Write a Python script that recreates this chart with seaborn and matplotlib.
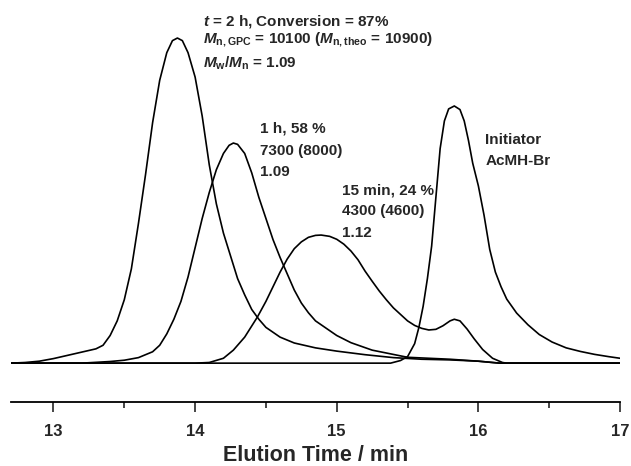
import numpy as np
import pandas as pd
import seaborn as sns
import matplotlib
matplotlib.use("Agg")
import matplotlib.pyplot as plt

# GPC traces: elution time (min) and normalised RI signal
t_2h = [12.70, 12.80, 12.90, 13.00, 13.10, 13.20, 13.30, 13.35, 13.40, 13.45, 13.50,
        13.55, 13.60, 13.65, 13.70, 13.75, 13.80, 13.84, 13.875, 13.91, 13.95, 14.00,
        14.05, 14.10, 14.15, 14.20, 14.25, 14.30, 14.35, 14.40, 14.45, 14.50, 14.60,
        14.70, 14.85, 15.00, 15.20, 15.40, 15.60, 15.80, 16.00, 16.15, 17.00]
s_2h = [0.0, 0.002, 0.006, 0.014, 0.024, 0.034, 0.044, 0.055, 0.085, 0.130, 0.195,
        0.290, 0.430, 0.580, 0.740, 0.870, 0.955, 0.992, 1.0, 0.992, 0.955, 0.880,
        0.760, 0.610, 0.490, 0.400, 0.330, 0.260, 0.210, 0.165, 0.135, 0.110, 0.080,
        0.062, 0.047, 0.037, 0.026, 0.017, 0.012, 0.010, 0.006, 0.0, 0.0]

t_1h = [12.70, 13.20, 13.40, 13.50, 13.60, 13.70, 13.75, 13.80, 13.85, 13.90, 13.95,
        14.00, 14.05, 14.10, 14.15, 14.20, 14.24, 14.27, 14.30, 14.35, 14.40, 14.45,
        14.50, 14.55, 14.60, 14.65, 14.70, 14.75, 14.80, 14.85, 14.90, 15.00, 15.10,
        15.25, 15.50, 15.80, 16.00, 16.15, 17.00]
s_1h = [0.0, 0.0, 0.005, 0.009, 0.017, 0.035, 0.055, 0.090, 0.135, 0.190, 0.265,
        0.355, 0.445, 0.525, 0.595, 0.645, 0.670, 0.677, 0.673, 0.645, 0.585, 0.510,
        0.445, 0.380, 0.325, 0.275, 0.225, 0.185, 0.155, 0.130, 0.115, 0.085, 0.063,
        0.040, 0.018, 0.012, 0.006, 0.0, 0.0]

t_15 = [12.70, 14.00, 14.10, 14.20, 14.27, 14.35, 14.44, 14.50, 14.55, 14.60, 14.65,
        14.70, 14.75, 14.80, 14.85, 14.89, 14.95, 15.00, 15.05, 15.10, 15.15, 15.20,
        15.25, 15.30, 15.35, 15.40, 15.45, 15.50, 15.55, 15.60, 15.65, 15.70, 15.75,
        15.80, 15.83, 15.87, 15.92, 15.97, 16.03, 16.10, 16.17, 16.20, 17.00]
s_15 = [0.0, 0.0, 0.002, 0.015, 0.040, 0.080, 0.142, 0.190, 0.235, 0.280, 0.320,
        0.352, 0.373, 0.387, 0.393, 0.394, 0.390, 0.381, 0.366, 0.345, 0.318, 0.283,
        0.252, 0.222, 0.195, 0.170, 0.150, 0.130, 0.116, 0.107, 0.102, 0.104, 0.115,
        0.130, 0.135, 0.130, 0.105, 0.075, 0.042, 0.015, 0.002, 0.0, 0.0]

t_ini = [12.70, 15.38, 15.45, 15.50, 15.55, 15.58, 15.61, 15.64, 15.67, 15.70, 15.73,
         15.76, 15.79, 15.83, 15.87, 15.90, 15.93, 15.96, 16.00, 16.04, 16.08, 16.12,
         16.16, 16.20, 16.27, 16.35, 16.43, 16.52, 16.62, 16.72, 16.82, 16.92, 17.00]
s_ini = [0.0, 0.0, 0.008, 0.020, 0.060, 0.110, 0.175, 0.260, 0.360, 0.510, 0.660,
         0.745, 0.782, 0.791, 0.780, 0.745, 0.685, 0.615, 0.545, 0.455, 0.350, 0.280,
         0.235, 0.197, 0.154, 0.118, 0.088, 0.065, 0.047, 0.036, 0.027, 0.020, 0.015]

xticks = [13, 14, 15, 16, 17]

sns.set_style("white")
plt.rcParams['font.family'] = ['Liberation Sans', 'DejaVu Sans']
plt.rcParams['font.weight'] = 'bold'
plt.rcParams['mathtext.fontset'] = 'custom'
plt.rcParams['mathtext.rm'] = 'Liberation Sans:bold'
plt.rcParams['mathtext.it'] = 'Liberation Sans:bold:italic'
plt.rcParams['mathtext.bf'] = 'Liberation Sans:bold'

fig = plt.figure(figsize=(6.31, 4.66), dpi=100)
ax = fig.add_axes([0.0174, 0.137, 0.9652, 0.863])

for tt, ss in [(t_2h, s_2h), (t_1h, s_1h), (t_15, s_15), (t_ini, s_ini)]:
    sns.lineplot(x=tt, y=ss, ax=ax, color='black', linewidth=1.2,
                 estimator=None, sort=False)

ax.set_xlim(12.70, 17.0)
ax.set_ylim(-0.12, 1.117)
ax.set_xticks(xticks)
ax.set_xticks(np.arange(13.5, 17, 1.0), minor=True)
ax.set_yticks([])
for side in ['left', 'right', 'top']:
    ax.spines[side].set_visible(False)
ax.spines['bottom'].set_linewidth(1.3)
ax.spines['bottom'].set_color('black')
ax.tick_params(axis='x', which='major', direction='out', length=7, width=1.2,
               labelsize=12, bottom=True, pad=9)
ax.tick_params(axis='x', which='minor', direction='out', length=4, width=1.2, bottom=True)
ax.set_xlabel('Elution Time / min', fontsize=15.5, fontweight='bold', labelpad=4)

fs = 11
ax.text(14.056, 1.040, r'$\mathit{t}$ = 2 h, Conversion = 87%', fontsize=fs, va='baseline')
ax.text(14.056, 0.985, r'$\mathit{M}_{\mathrm{n,GPC}}$ = 10100 ($\mathit{M}_{\mathrm{n,theo}}$ = 10900)',
        fontsize=fs, va='baseline')
ax.text(14.056, 0.908, r'$\mathit{M}_{\mathrm{w}}$/$\mathit{M}_{\mathrm{n}}$ = 1.09', fontsize=fs, va='baseline')

ax.text(14.458, 0.708, '1 h, 58 %', fontsize=fs, va='baseline')
ax.text(14.458, 0.640, '7300 (8000)', fontsize=fs, va='baseline')
ax.text(14.458, 0.575, '1.09', fontsize=fs, va='baseline')

ax.text(15.035, 0.520, '15 min, 24 %', fontsize=fs, va='baseline')
ax.text(15.035, 0.455, '4300 (4600)', fontsize=fs, va='baseline')
ax.text(15.035, 0.388, '1.12', fontsize=fs, va='baseline')

ax.text(16.049, 0.674, 'Initiator', fontsize=fs, va='baseline')
ax.text(16.049, 0.609, 'AcMH-Br', fontsize=fs, va='baseline')

fig.savefig('out.png', dpi=100)
